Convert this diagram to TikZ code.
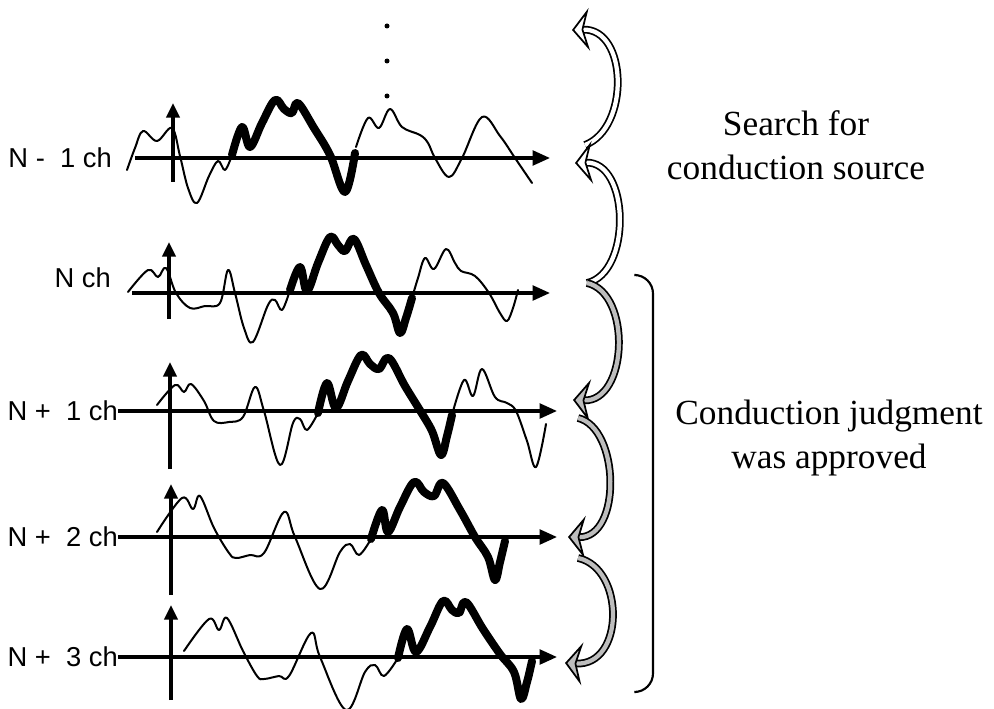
\documentclass[tikz,border=0pt]{standalone}
\usepackage{fontspec}
\setmainfont{Liberation Serif}
\newfontfamily\labelsans{Liberation Sans}
\usepackage{tikz}
\usetikzlibrary{arrows.meta}
\definecolor{passgray}{HTML}{BDBDBD}
\newcommand{\chfont}{\labelsans\fontsize{20.5}{24}\selectfont}
\newcommand{\notefont}{\fontsize{26.5}{33}\selectfont}

\begin{document}
\begin{tikzpicture}[x=0.75pt,y=0.75pt,
 wave/.style={line width=1.5pt,line join=round,line cap=round},
 cond/.style={line width=6pt,line join=round,line cap=round},
 axis/.style={line width=2.4pt,-{Triangle[length=13pt,width=11pt]}},
 yaxis/.style={line width=2.4pt,-{Triangle[length=11pt,width=10pt]}},
 chlabel/.style={font=\chfont,anchor=east,inner sep=0pt},
 note/.style={font=\notefont,align=center},
 seekarrow/.style={draw=black,line width=1.3pt,double=white,double distance=3.2pt,
   -{Stealth[length=13pt,width=32pt,inset=4.5pt,fill=white,line width=1.3pt]}},
 passarrow/.style={draw=black,line width=1.3pt,double=passgray,double distance=3.2pt,
   -{Stealth[length=13pt,width=32pt,inset=4.5pt,fill=passgray,line width=1.3pt]}}]
 \useasboundingbox (0,0) rectangle (994,708);

 % N-1 channel
 \begin{scope}[shift={(0,550)}]
  \draw[wave] plot[smooth,tension=.6] coordinates {(127,-12) (135,10) (143,27) (157,17) (172,30)
    (180,2) (188,-30) (197,-45) (209,-18) (218,-3) (225,-12) (232,3)};
  \draw[cond] plot[smooth,tension=.6] coordinates {(232,3) (242,31) (250,11) (262,35) (275,58)
    (284,49) (292,45) (298,55) (314,30) (330,3) (345,-34) (355,5)};
  \draw[wave] plot[smooth,tension=.6] coordinates {(356,11) (368,40) (379,30) (390,49) (402,31)
    (420,23) (428,15) (435,0) (449,-19) (462,0) (482,41) (500,22) (515,0) (532,-25)};
  \draw[axis] (135,0) -- (550,0);
  \draw[yaxis] (173,-24) -- (173,55);
 \end{scope}
 \node[chlabel] (chM1) at (112,550) {N -\ \ 1 ch};
 \foreach \d in {682,647,612} \fill (387,\d) circle (2.5);

 % N channel
 \begin{scope}[shift={(0,415)}]
  \draw[wave] plot[smooth,tension=.6] coordinates {(128,1) (148,23) (158,16) (166,25) (176,0)
    (190,-15) (205,-13) (220,-10) (228,23) (235,0) (244,-35) (253,-49) (268,-12) (275,-7)
    (282,-17) (290,3)};
  \draw[cond] plot[smooth,tension=.6] coordinates {(290,3) (300,26) (307,2) (318,30) (330,56)
    (338,48) (345,42) (354,54) (366,28) (379,0) (393,-20) (400,-40) (406,-25) (412,-5)};
  \draw[wave] plot[smooth,tension=.6] coordinates {(412,-5) (418,15) (425,35) (434,24) (446,44)
    (455,30) (461,22) (475,17) (489,0) (500,-20) (507,-28) (513,-15) (518,3)};
  \draw[axis] (132,0) -- (550,0);
  \draw[yaxis] (169,-26) -- (169,51);
 \end{scope}
 \node[chlabel] (chN) at (111,430) {N ch};

 % N+1 channel
 \begin{scope}[shift={(0,297)}]
  \draw[wave] plot[smooth,tension=.6] coordinates {(157,6) (175,26) (184,19) (191,27) (204,10)
    (214,-10) (229,-11) (243,-6) (255,24) (264,0) (280,-54) (293,-12) (300,-8) (307,-19)
    (318,-2)};
  \draw[cond] plot[smooth,tension=.6] coordinates {(318,-2) (327,28) (336,3) (348,30) (361,56)
    (370,47) (379,42) (389,53) (405,25) (421,-1) (432,-20) (441,-44) (447,-25) (452,-4)};
  \draw[wave] plot[smooth,tension=.6] coordinates {(452,-4) (464,31) (473,15) (482,42) (495,14)
    (507,8) (516,0) (527,-30) (536,-56) (546,-13)};
  \draw[axis] (118,0) -- (557,0);
  \draw[yaxis] (170,-58) -- (170,49);
 \end{scope}
 \node[chlabel] (chP1) at (118,297) {N +\ \ 1 ch};

 % N+2 channel
 \begin{scope}[shift={(0,171)}]
  \draw[wave] plot[smooth,tension=.6] coordinates {(157,5) (182,39) (193,28) (200,41) (214,9)
    (229,-16) (236,-21) (250,-18) (264,-16) (284,25) (295,0) (320,-52) (340,-15) (350,-7)
    (359,-18) (371,-2)};
  \draw[cond] plot[smooth,tension=.6] coordinates {(371,-2) (382,27) (388,5) (400,30) (414,55)
    (424,45) (434,41) (443,54) (460,27) (475,0) (488,-20) (495,-43) (500,-25) (505,-4)};
  \draw[axis] (118,0) -- (557,0);
  \draw[yaxis] (171,-58) -- (171,53);
 \end{scope}
 \node[chlabel] (chP2) at (118,171) {N +\ \ 2 ch};

 % N+3 channel
 \begin{scope}[shift={(0,51)}]
  \draw[wave] plot[smooth,tension=.6] coordinates {(184,6) (209,38) (219,27) (227,39) (243,6)
    (257,-19) (264,-22) (279,-19) (289,-19) (311,24) (320,0) (346,-53) (365,-15) (375,-8)
    (384,-19) (398,-1)};
  \draw[cond] plot[smooth,tension=.6] coordinates {(398,-1) (407,28) (416,5) (430,30) (443,56)
    (452,47) (459,44) (466,55) (483,28) (500,3) (514,-15) (521,-42) (527,-25) (532,-4)};
  \draw[axis] (118,0) -- (557,0);
  \draw[yaxis] (171,-43) -- (171,52);
 \end{scope}
 \node[chlabel] (chP3) at (118,51) {N +\ \ 3 ch};

 % hops between channels
 \coordinate (topEnd) at (572,678);
 \coordinate (tailM1) at (585,563);
 \coordinate (headM1) at (575,545);
 \coordinate (fork) at (587,425);
 \coordinate (headP1) at (573,308);
 \coordinate (tailP1) at (578,290);
 \coordinate (headP2) at (568,171);
 \coordinate (tailP2) at (578,150);
 \coordinate (headP3) at (565,45);
 \draw[seekarrow] (tailM1) .. controls +(45,17) and +(56,2) .. (topEnd);
 \draw[seekarrow] (fork) .. controls +(45,10) and +(55,2) .. (headM1);
 \draw[passarrow] (fork) .. controls +(45,-10) and +(55,-2) .. (headP1);
 \draw[passarrow] (tailP1) .. controls +(42,-10) and +(54,-1) .. (headP2);
 \draw[passarrow] (tailP2) .. controls +(47,-10) and +(60,-3) .. (headP3);

 % bracket and notes
 \draw[line width=1.6pt,rounded corners=14] (636,433) -- (653,433) -- (653,16) -- (636,16);
 \node[note] (seek) at (796,563) {Search for\\conduction source};
 \node[note] (judge) at (829,270) {Conduction judgment\\was approved};
\end{tikzpicture}
\end{document}
